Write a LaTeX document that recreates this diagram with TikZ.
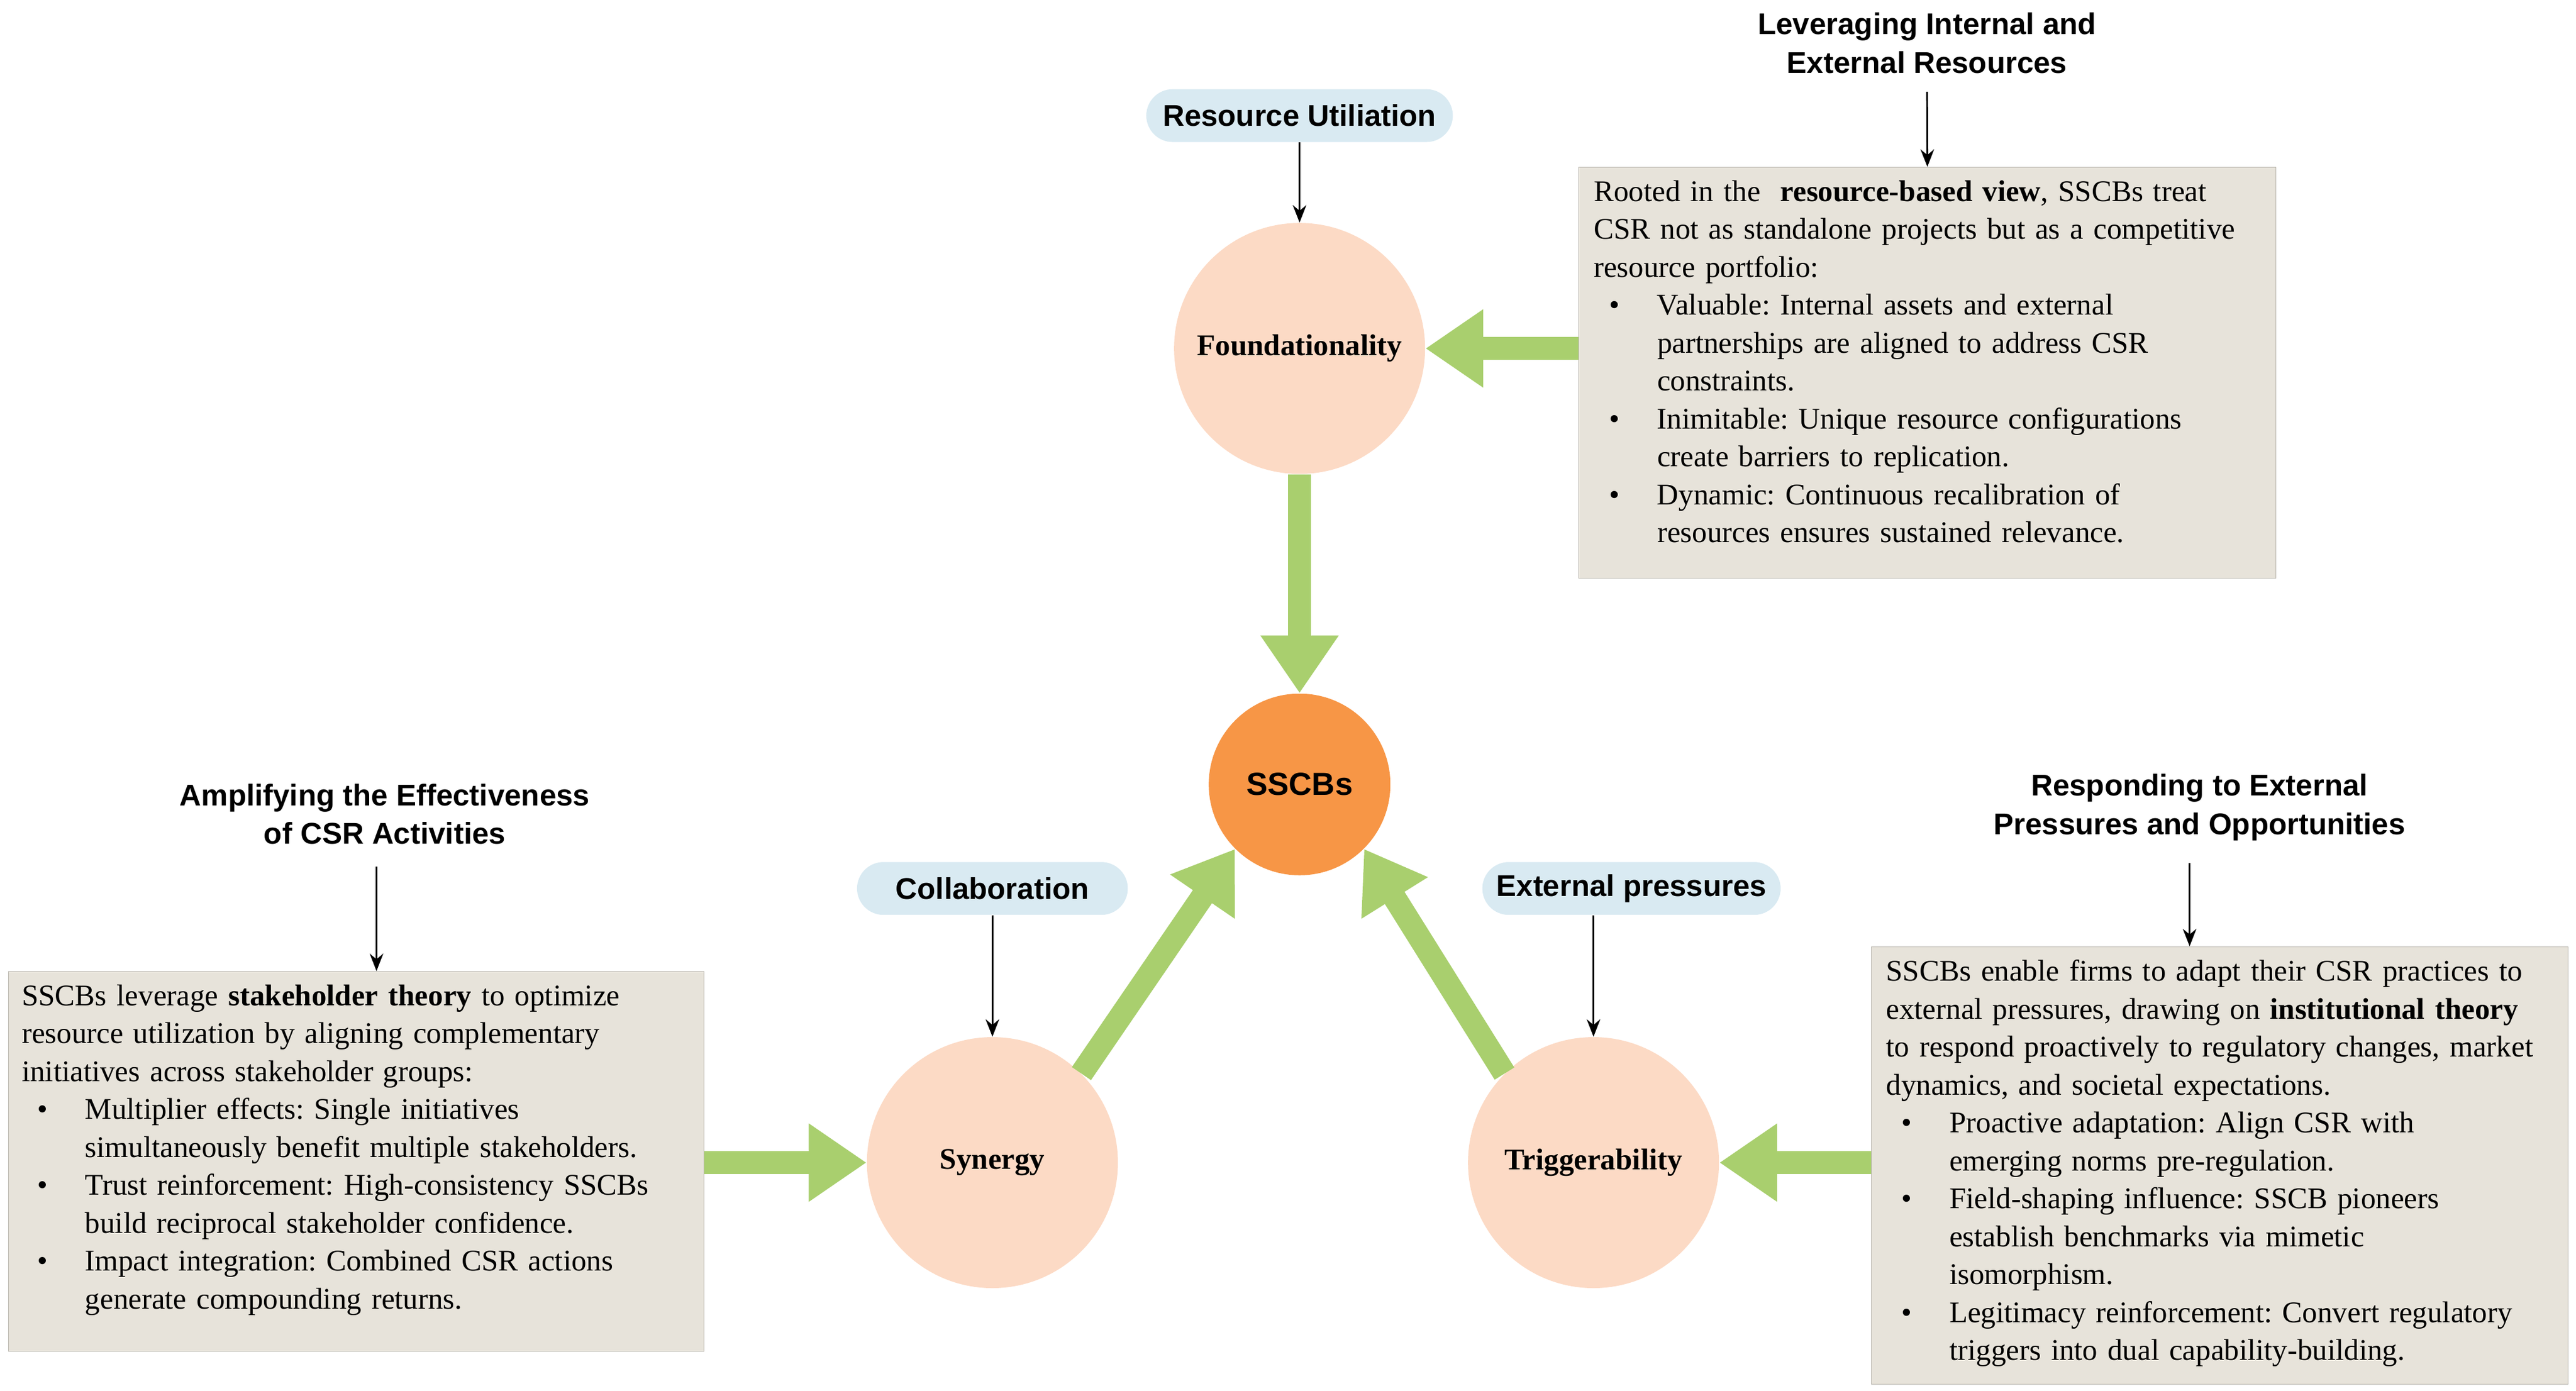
\documentclass[tikz,border=0pt]{standalone}
\usepackage{fontspec}
\setmainfont{Liberation Serif}
\newfontfamily\hsans{Liberation Sans}
\usetikzlibrary{arrows.meta,shapes.geometric,shapes.misc}
\definecolor{peach}{HTML}{FCDAC5}
\definecolor{orng}{HTML}{F79646}
\definecolor{pill}{HTML}{D9EAF2}
\definecolor{boxg}{HTML}{E7E3DA}
\definecolor{grn}{HTML}{A9CF6E}
\newcommand{\bitm}[1]{\par\hangindent=1.15cm\hangafter=1\noindent\makebox[1.15cm][l]{\hspace{0.28cm}\textbullet}#1}
\frenchspacing
\begin{document}
\begin{tikzpicture}[x=0.03cm,y=-0.03cm,
  circ/.style={circle,fill=peach,minimum size=4.56cm,inner sep=0pt,font=\fontsize{15.5}{18}\selectfont\bfseries},
  pl/.style={rounded rectangle,fill=pill,minimum height=0.96cm,inner sep=4pt,font=\hsans\fontsize{15.5}{18}\selectfont\bfseries},
  hd/.style={align=center,font=\hsans\fontsize{15.5}{20}\selectfont\bfseries},
  bx/.style={fill=boxg,draw=boxg!80!black,line width=0.3pt,inner sep=0pt},
  bt/.style={anchor=north west,inner sep=0pt,text width=12.6cm,font=\fontsize{15.5}{19.6}\selectfont},
  thin/.style={-{Stealth[length=9pt,width=7pt]},line width=0.9pt},
  garr/.style={grn,line width=0.42cm,-{Triangle[width=1.35cm,length=1.05cm]}}]
\useasboundingbox (0,0) rectangle (1560,842);
% circles
\node[circ] (F) at (787,211) {Foundationality};
\node[circ] (Sy) at (601,704) {Synergy};
\node[circ] (T) at (965,704) {Triggerability};
\node[circle,fill=orng,minimum size=3.3cm,inner sep=0pt,font=\hsans\fontsize{16.5}{19}\selectfont\bfseries] (S) at (787,475) {SSCBs};
% pills
\node[pl,minimum width=5.85cm] (p1) at (787,70) {Resource Utiliation};
\node[pl,minimum width=5.2cm] (p2) at (601,538) {Collaboration};
\node[pl,minimum width=5.7cm] (p3) at (988,538) {External pressures};
\draw[thin] (p1.south) -- (F.north);
\draw[thin] (p2.south) -- (Sy.north);
\draw[thin] (p3.south -| T.north) -- (T.north);
% boxes
\node[bx,minimum width=12.66cm,minimum height=7.47cm,anchor=north west] (B1) at (956,101) {};
\node[bx,minimum width=12.63cm,minimum height=6.9cm,anchor=north west] (B2) at (5,588) {};
\node[bx,minimum width=12.66cm,minimum height=7.95cm,anchor=north west] (B3) at (1133,573) {};
\node[bt] (t1) at (965,109) {\raggedright
Rooted in the \ \textbf{resource-based view}, SSCBs treat\newline CSR not as standalone projects but as a competitive\newline resource portfolio:
\bitm{Valuable: Internal assets and external\newline partnerships are aligned to address CSR\newline constraints.}
\bitm{Inimitable: Unique resource configurations\newline create barriers to replication.}
\bitm{Dynamic: Continuous recalibration of\newline resources ensures sustained relevance.}\par};
\node[bt] (t2) at (13,596) {\raggedright
SSCBs leverage \textbf{stakeholder theory} to optimize\newline resource utilization by aligning complementary\newline initiatives across stakeholder groups:
\bitm{Multiplier effects: Single initiatives\newline simultaneously benefit multiple stakeholders.}
\bitm{Trust reinforcement: High-consistency SSCBs\newline build reciprocal stakeholder confidence.}
\bitm{Impact integration: Combined CSR actions\newline generate compounding returns.}\par};
\node[bt,text width=12.9cm] (t3) at (1142,581) {\raggedright
SSCBs enable firms to adapt their CSR practices to\newline external pressures, drawing on \textbf{institutional theory}\newline to respond proactively to regulatory changes, market\newline dynamics, and societal expectations.
\bitm{Proactive adaptation: Align CSR with\newline emerging norms pre-regulation.}
\bitm{Field-shaping influence: SSCB pioneers\newline establish benchmarks via mimetic\newline isomorphism.}
\bitm{Legitimacy reinforcement: Convert regulatory\newline triggers into dual capability-building.}\par};
% headings
\node[hd] (h1) at (1167,26) {Leveraging Internal and\\External Resources};
\node[hd] (h2) at (233,493) {Amplifying the Effectiveness\\of CSR Activities};
\node[hd] (h3) at (1332,489) {Responding to External\\Pressures and Opportunities};
\draw[thin,shorten <=6pt] (h1.south) -- (B1.north);
\draw[thin,shorten <=8pt] (h2.south -| 228,0) -- (B2.north -| 228,0);
\draw[thin,shorten <=8pt] (h3.south -| 1326,0) -- (B3.north -| 1326,0);
% green arrows
\draw[garr] (F.south) -- (S.north);
\draw[garr] (Sy.45) -- (S.225);
\draw[garr] (T.135) -- (S.315);
\draw[garr] (F -| B1.west) -- (F.east);
\draw[garr] (Sy -| B2.east) -- (Sy.west);
\draw[garr] (T -| B3.west) -- (T.east);
\end{tikzpicture}
\end{document}
